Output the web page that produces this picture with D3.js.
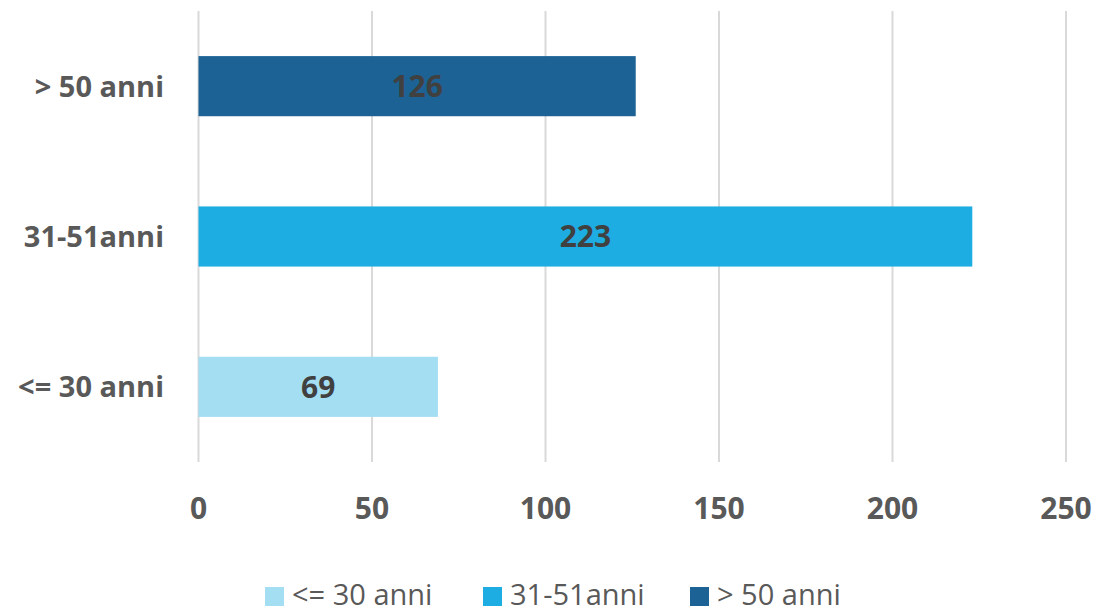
<!DOCTYPE html>
<html>
<head>
<meta charset="utf-8">
<script src="https://cdn.jsdelivr.net/npm/d3@7"></script>
<style>
  body { margin: 0; background: #fff; }
  #chart-container { width: 1099px; height: 612px; }
</style>
</head>
<body>
<div id="chart-container"></div>
<script>
const categories = ["<= 30 anni", "31-51anni", "> 50 anni"];
const values = [69, 223, 126];
const xTicks = [0, 50, 100, 150, 200, 250];
const colorPalette = {
  bars: ["#A4DEF2", "#1EADE3", "#1D6294"],
  grid: "#D9D9D9",
  axisText: "#595959",
  valueText: "#404040",
};

const width = 1099;
const height = 612;
const fontFamily = "'Open Sans', 'Noto Sans', sans-serif";

const svg = d3
  .select("#chart-container")
  .append("svg")
  .attr("width", width)
  .attr("height", height);

const x = d3.scaleLinear().domain([0, 250]).range([198.5, 1066]);
// top category first
const y = d3
  .scaleBand()
  .domain(categories.slice().reverse())
  .range([11, 462])
  .paddingInner(0.6)
  .paddingOuter(0.3);

// gridlines
svg
  .append("g")
  .selectAll("line")
  .data(xTicks)
  .enter()
  .append("line")
  .attr("x1", (d) => x(d))
  .attr("x2", (d) => x(d))
  .attr("y1", 11)
  .attr("y2", 462)
  .attr("stroke", colorPalette.grid)
  .attr("stroke-width", 2);

// bars
svg
  .append("g")
  .selectAll("rect")
  .data(categories)
  .enter()
  .append("rect")
  .attr("x", x(0))
  .attr("y", (d) => y(d))
  .attr("width", (d, i) => x(values[i]) - x(0))
  .attr("height", y.bandwidth())
  .attr("fill", (d, i) => colorPalette.bars[i]);

// value labels
svg
  .append("g")
  .selectAll("text")
  .data(categories)
  .enter()
  .append("text")
  .attr("x", (d, i) => (x(0) + x(values[i])) / 2)
  .attr("y", (d) => y(d) + y.bandwidth() / 2)
  .attr("dy", "0.36em")
  .attr("text-anchor", "middle")
  .attr("font-family", fontFamily)
  .attr("font-weight", 700)
  .attr("font-size", 30)
  .attr("fill", colorPalette.valueText)
  .text((d, i) => values[i]);

// category labels
svg
  .append("g")
  .selectAll("text")
  .data(categories)
  .enter()
  .append("text")
  .attr("x", 164)
  .attr("y", (d) => y(d) + y.bandwidth() / 2)
  .attr("dy", "0.36em")
  .attr("text-anchor", "end")
  .attr("font-family", fontFamily)
  .attr("font-weight", 700)
  .attr("font-size", 29)
  .attr("fill", colorPalette.axisText)
  .text((d) => d);

// x tick labels
svg
  .append("g")
  .selectAll("text")
  .data(xTicks)
  .enter()
  .append("text")
  .attr("x", (d) => x(d))
  .attr("y", 519)
  .attr("text-anchor", "middle")
  .attr("font-family", fontFamily)
  .attr("font-weight", 700)
  .attr("font-size", 30)
  .attr("fill", colorPalette.axisText)
  .text((d) => d);

// legend
const legendX = [265, 483, 690];
const legend = svg
  .append("g")
  .selectAll("g")
  .data(categories)
  .enter()
  .append("g")
  .attr("transform", (d, i) => `translate(${legendX[i]},595)`);

legend
  .append("rect")
  .attr("x", 0)
  .attr("y", -8)
  .attr("width", 19)
  .attr("height", 19)
  .attr("fill", (d, i) => colorPalette.bars[i]);

legend
  .append("text")
  .attr("x", 27)
  .attr("y", 0)
  .attr("dy", "0.36em")
  .attr("font-family", fontFamily)
  .attr("font-size", 29)
  .attr("fill", colorPalette.axisText)
  .text((d) => d);
</script>
</body>
</html>
